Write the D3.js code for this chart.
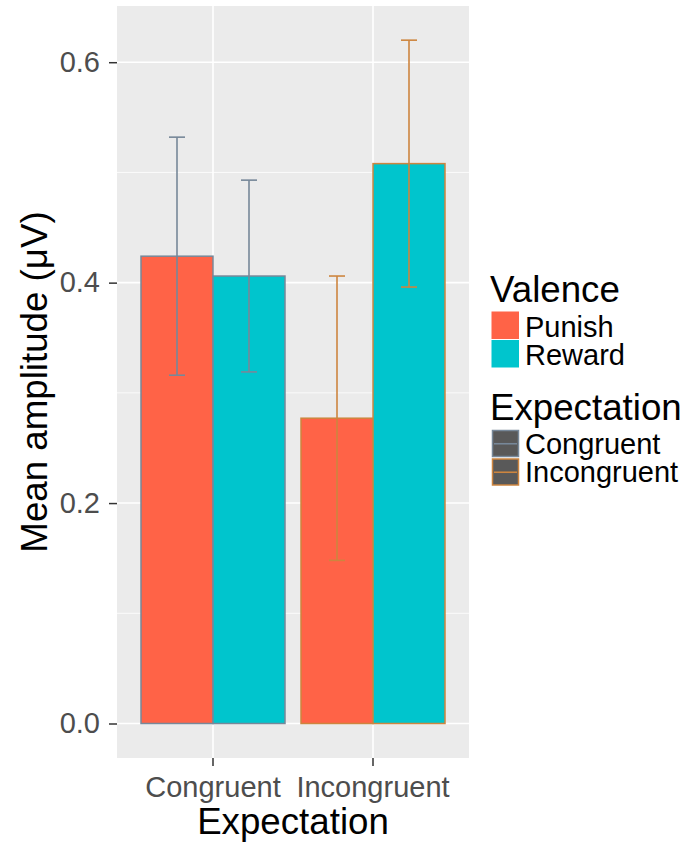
<!DOCTYPE html>
<html>
<head>
<meta charset="utf-8">
<script src="https://cdn.jsdelivr.net/npm/d3@7"></script>
<style>
  html, body { margin: 0; padding: 0; background: #fff; }
  svg { display: block; font-family: "Liberation Sans", Arial, Helvetica, sans-serif; }
</style>
</head>
<body>
<svg id="chart" width="690" height="850"></svg>
<script>
// Mean amplitude by expectation and valence, with standard-error bars
const expectations = ["Congruent", "Incongruent"];
const valences = ["Punish", "Reward"];
const meanPunish = [0.424, 0.277];
const meanReward = [0.406, 0.508];
const sePunish = [0.108, 0.129];
const seReward = [0.087, 0.112];
const yTicks = [0.0, 0.2, 0.4, 0.6];
const yMinorTicks = [0.1, 0.3, 0.5];

const fillColors = { Punish: "#FF6347", Reward: "#00C5CD" };
const edgeColors = { Congruent: "#778899", Incongruent: "#CD853F" };

const rows = [];
expectations.forEach((e, i) => {
  rows.push({ expectation: e, valence: "Punish", mean: meanPunish[i], se: sePunish[i] });
  rows.push({ expectation: e, valence: "Reward", mean: meanReward[i], se: seReward[i] });
});

const svg = d3.select("#chart");
const panel = { left: 117, right: 469, top: 6, bottom: 758 };

const x = d3.scaleBand()
  .domain(expectations)
  .range([panel.left, panel.right])
  .paddingInner(0.1)
  .paddingOuter(0.15);

const xInner = d3.scaleBand()
  .domain(valences)
  .range([0, x.bandwidth()])
  .padding(0);

const y = d3.scaleLinear()
  .domain([-0.0313, 0.651])
  .range([panel.bottom, panel.top]);

// panel background
svg.append("rect")
  .attr("x", panel.left).attr("y", panel.top)
  .attr("width", panel.right - panel.left)
  .attr("height", panel.bottom - panel.top)
  .attr("fill", "#EBEBEB");

// grid lines
const grid = svg.append("g");
grid.selectAll("line.minor").data(yMinorTicks).join("line")
  .attr("x1", panel.left).attr("x2", panel.right)
  .attr("y1", d => y(d)).attr("y2", d => y(d))
  .attr("stroke", "#fff").attr("stroke-width", 0.8);
grid.selectAll("line.major").data(yTicks).join("line")
  .attr("x1", panel.left).attr("x2", panel.right)
  .attr("y1", d => y(d)).attr("y2", d => y(d))
  .attr("stroke", "#fff").attr("stroke-width", 1.6);
grid.selectAll("line.vert").data(expectations).join("line")
  .attr("x1", d => x(d) + x.bandwidth() / 2).attr("x2", d => x(d) + x.bandwidth() / 2)
  .attr("y1", panel.top).attr("y2", panel.bottom)
  .attr("stroke", "#fff").attr("stroke-width", 1.6);

// bars
svg.append("g").selectAll("rect").data(rows).join("rect")
  .attr("x", d => x(d.expectation) + xInner(d.valence))
  .attr("y", d => y(d.mean))
  .attr("width", xInner.bandwidth())
  .attr("height", d => y(0) - y(d.mean))
  .attr("fill", d => fillColors[d.valence])
  .attr("stroke", d => edgeColors[d.expectation])
  .attr("stroke-width", 1.5);

// error bars
const capHalf = 8;
const eb = svg.append("g").selectAll("g").data(rows).join("g")
  .attr("stroke", d => edgeColors[d.expectation])
  .attr("stroke-width", 1.6)
  .attr("fill", "none");
eb.append("line")
  .attr("x1", d => x(d.expectation) + xInner(d.valence) + xInner.bandwidth() / 2)
  .attr("x2", d => x(d.expectation) + xInner(d.valence) + xInner.bandwidth() / 2)
  .attr("y1", d => y(d.mean - d.se))
  .attr("y2", d => y(d.mean + d.se));
[-1, 1].forEach(s => {
  eb.append("line")
    .attr("x1", d => x(d.expectation) + xInner(d.valence) + xInner.bandwidth() / 2 - capHalf)
    .attr("x2", d => x(d.expectation) + xInner(d.valence) + xInner.bandwidth() / 2 + capHalf)
    .attr("y1", d => y(d.mean + s * d.se))
    .attr("y2", d => y(d.mean + s * d.se));
});

// y axis
const yAxis = d3.axisLeft(y).tickValues(yTicks).tickFormat(d3.format(".1f"))
  .tickSizeInner(8).tickSizeOuter(0).tickPadding(9);
const yg = svg.append("g").attr("transform", `translate(${panel.left},0)`).call(yAxis);
yg.select(".domain").remove();
yg.selectAll(".tick line").attr("stroke", "#333").attr("stroke-width", 1.5);
yg.selectAll(".tick text").attr("fill", "#4D4D4D").style("font-size", "29px")
  .style("font-family", "'Liberation Sans', Arial, sans-serif");

// x axis
const xAxis = d3.axisBottom(x).tickSizeInner(8).tickSizeOuter(0).tickPadding(10);
const xg = svg.append("g").attr("transform", `translate(0,${panel.bottom})`).call(xAxis);
xg.select(".domain").remove();
xg.selectAll(".tick line").attr("stroke", "#333").attr("stroke-width", 1.5);
xg.selectAll(".tick text").attr("fill", "#4D4D4D").style("font-size", "29px")
  .style("font-family", "'Liberation Sans', Arial, sans-serif");

// axis titles
svg.append("text")
  .attr("x", (panel.left + panel.right) / 2).attr("y", 834)
  .attr("text-anchor", "middle").style("font-size", "36.7px").attr("fill", "#000")
  .text("Expectation");
svg.append("text")
  .attr("transform", `translate(47,${(panel.top + panel.bottom) / 2}) rotate(-90)`)
  .attr("text-anchor", "middle").style("font-size", "36.7px").attr("fill", "#000")
  .text("Mean amplitude (μV)");

// legends
const key = 28.5;
const lg = svg.append("g");
lg.append("text").attr("x", 490).attr("y", 302).style("font-size", "36.7px").text("Valence");
valences.forEach((v, i) => {
  const ky = 311.5 + i * key;
  lg.append("rect").attr("x", 491.5).attr("y", ky).attr("width", key - 1).attr("height", key - 1)
    .attr("fill", fillColors[v]);
  lg.append("text").attr("x", 525).attr("y", ky + 25).style("font-size", "29px").text(v);
});

lg.append("text").attr("x", 490).attr("y", 420).style("font-size", "36.7px").text("Expectation");
expectations.forEach((e, i) => {
  const ky = 429.5 + i * key;
  lg.append("rect").attr("x", 492.5).attr("y", ky + 1).attr("width", key - 2.5).attr("height", key - 2.5)
    .attr("fill", "#595959").attr("stroke", edgeColors[e]).attr("stroke-width", 1.5);
  lg.append("line").attr("x1", 494).attr("x2", 492.5 + key - 4)
    .attr("y1", ky + key / 2).attr("y2", ky + key / 2)
    .attr("stroke", edgeColors[e]).attr("stroke-width", 1.6);
  lg.append("text").attr("x", 525).attr("y", ky + 24).style("font-size", "29px").text(e);
});
</script>
</body>
</html>
